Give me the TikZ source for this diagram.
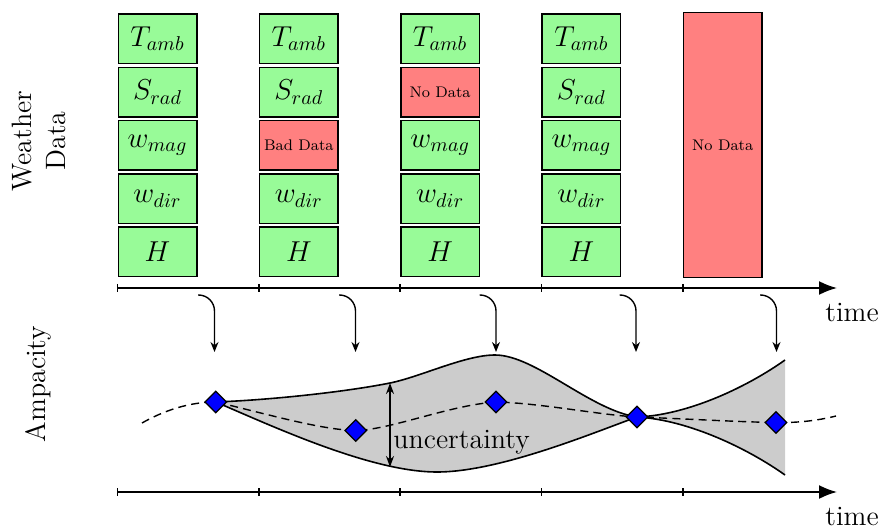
\documentclass[tikz,border=0pt]{standalone}
\usetikzlibrary{shapes.geometric,arrows.meta}
\definecolor{okgreen}{RGB}{152,251,152}
\definecolor{badred}{RGB}{255,128,128}
\definecolor{bandgray}{RGB}{204,204,204}
\begin{document}
\begin{tikzpicture}[x=0.5pt,y=-0.5pt,
  font=\fontsize{14}{17}\selectfont,
  okcell/.style={draw=black, line width=0.7pt, minimum width=39.3pt, minimum height=24.8pt, inner sep=0pt, fill=okgreen},
  badcell/.style={okcell, fill=badred, font=\fontsize{7.7}{9.5}\selectfont},
  axisline/.style={line width=0.9pt, -{Latex[length=9pt,width=7pt]}},
  tickmark/.style={line width=0.9pt},
  feed/.style={line width=0.7pt, rounded corners=8pt, -{Stealth[length=5pt,width=4pt]}},
  est/.style={diamond, draw=black, fill=blue, line width=0.6pt, minimum size=11pt, inner sep=0pt},
  trend/.style={line width=0.7pt, dash pattern=on 4pt off 2.6pt},
  bandedge/.style={line width=0.8pt},
  lbl/.style={inner sep=0pt}
]
\useasboundingbox (0,0) rectangle (878,529);

% ---- weather data columns ----
\node[okcell] (b01) at (157.5,38.8)  {$T_{amb}$};
\node[okcell] (b02) at (157.5,92.1)  {$S_{rad}$};
\node[okcell] (b03) at (157.5,145.4) {$w_{mag}$};
\node[okcell] (b04) at (157.5,198.7) {$w_{dir}$};
\node[okcell] (b05) at (157.5,252.0) {$H$};

\node[okcell]  (b11) at (298.8,38.8)  {$T_{amb}$};
\node[okcell]  (b12) at (298.8,92.1)  {$S_{rad}$};
\node[badcell] (b13) at (298.8,145.4) {Bad Data};
\node[okcell]  (b14) at (298.8,198.7) {$w_{dir}$};
\node[okcell]  (b15) at (298.8,252.0) {$H$};

\node[okcell]  (b21) at (440.1,38.8)  {$T_{amb}$};
\node[badcell] (b22) at (440.1,92.1)  {No Data};
\node[okcell]  (b23) at (440.1,145.4) {$w_{mag}$};
\node[okcell]  (b24) at (440.1,198.7) {$w_{dir}$};
\node[okcell]  (b25) at (440.1,252.0) {$H$};

\node[okcell] (b31) at (581.4,38.8)  {$T_{amb}$};
\node[okcell] (b32) at (581.4,92.1)  {$S_{rad}$};
\node[okcell] (b33) at (581.4,145.4) {$w_{mag}$};
\node[okcell] (b34) at (581.4,198.7) {$w_{dir}$};
\node[okcell] (b35) at (581.4,252.0) {$H$};

\node[badcell, minimum height=132.6pt] (b4) at (722.7,145) {No Data};

% ---- side labels ----
\node[rotate=90, align=center] (wlab) at (39,141) {Weather\\Data};
\node[rotate=90] (alab) at (38,384) {Ampacity};

% ---- top time axis ----
\coordinate (ta0) at (117.5,288);
\coordinate (ta1) at (837,288);
\draw[axisline] (ta0) -- (ta1);
\foreach \x in {117.5,258.8,400.1,541.4,682.7}
  \draw[tickmark] (\x,284) -- (\x,292);
\node[lbl, anchor=base west] (time1) at (825,321.5) {time};

% ---- bottom time axis ----
\coordinate (ba0) at (117.5,492);
\coordinate (ba1) at (837,492);
\draw[axisline] (ba0) -- (ba1);
\foreach \x in {117.5,258.8,400.1,541.4,682.7}
  \draw[tickmark] (\x,488) -- (\x,496);
\node[lbl, anchor=base west] (time2) at (825,525.5) {time};

% ---- feed arrows ----
\foreach \i/\ex in {1/214.5,2/355.5,3/496,4/636,5/776.5}{
  \coordinate (s\i) at ({\ex-16.5},295);
  \coordinate (e\i) at (\ex,352);
  \draw[feed] (s\i) -| (e\i);
}

% ---- estimate points ----
\coordinate (c0) at (142,423);
\coordinate (p1) at (215.7,402);
\coordinate (p2) at (355.7,430.5);
\coordinate (p3) at (496,402);
\coordinate (p4) at (637,417);
\coordinate (p5) at (776,422.5);
\coordinate (c6) at (836,416);

% ---- uncertainty band ----
\filldraw[fill=bandgray, bandedge] (p1) .. controls (270,400) and (345,392) .. (390,383)
  .. controls (420,377) and (465,355) .. (495,355)
  .. controls (535,355) and (590,410) .. (p4)
  .. controls (595,432) and (500,472) .. (437,472)
  .. controls (370,472) and (270,425) .. (p1) -- cycle;

\fill[bandgray] (p4) .. controls (690,415) and (750,385) .. (785,360)
  -- (785,475) .. controls (750,450) and (690,420) .. (p4) -- cycle;
\draw[bandedge] (p4) .. controls (690,415) and (750,385) .. (785,360);
\draw[bandedge] (p4) .. controls (690,420) and (750,450) .. (785,475);

% ---- trend line ----
\draw[trend] (c0) .. controls (165,410) and (190,402) .. (p1)
  .. controls (260,412) and (320,430) .. (p2)
  .. controls (390,430) and (450,405) .. (p3)
  .. controls (540,403) and (600,415) .. (p4)
  .. controls (690,419) and (740,422) .. (p5)
  .. controls (800,423) and (820,420) .. (c6);

% ---- uncertainty marker ----
\coordinate (u1) at (390,383);
\coordinate (u2) at (390,467);
\draw[line width=0.7pt, {Stealth[length=5.5pt,width=4pt]}-{Stealth[length=5.5pt,width=4pt]}] (u1) -- (u2);
\node[lbl, anchor=base west] (unc) at (393,448) {uncertainty};

% ---- diamonds ----
\node[est] (d1) at (p1) {};
\node[est] (d2) at (p2) {};
\node[est] (d3) at (p3) {};
\node[est] (d4) at (p4) {};
\node[est] (d5) at (p5) {};
\end{tikzpicture}
\end{document}
